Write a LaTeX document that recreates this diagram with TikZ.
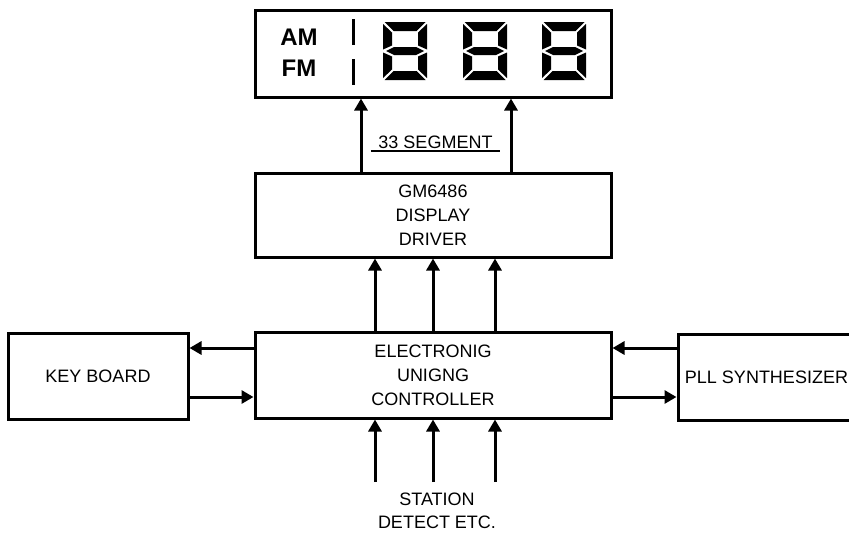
\documentclass[tikz,border=0pt]{standalone}
\usepackage{fontspec}
\setmainfont{Liberation Sans}
\usetikzlibrary{arrows.meta}

\tikzset{
  segdigit/.pic={
    \fill (1.5,0) -- (42.5,0) -- (33.5,9) -- (10.5,9) -- cycle;
    \fill (1.5,58) -- (42.5,58) -- (33.5,49) -- (10.5,49) -- cycle;
    \fill (3,29) -- (11,25) -- (33,25) -- (41,29) -- (33,33) -- (11,33) -- cycle;
    \fill (0,2) -- (9,10.5) -- (9,23.5) -- (0,27.5) -- cycle;
    \fill (0,30.5) -- (9,34.5) -- (9,47.5) -- (0,56) -- cycle;
    \fill (44,2) -- (35,10.5) -- (35,23.5) -- (44,27.5) -- cycle;
    \fill (44,30.5) -- (35,34.5) -- (35,47.5) -- (44,56) -- cycle;
  }
}

\begin{document}
\begin{tikzpicture}[x=1pt,y=-1pt,>={Triangle[length=12pt,width=13pt]},
  blk/.style={draw,line width=3pt,align=center,inner sep=0pt,font=\fontsize{18}{24}\selectfont},
  txt/.style={align=center,font=\fontsize{18}{23}\selectfont},
  wire/.style={->,line width=3pt}]
  \useasboundingbox (0,0) rectangle (849,533);
  \clip (0,0) rectangle (849,533);

  % display
  \node[blk,minimum width=356pt,minimum height=87pt] (disp) at (433,53.5) {};
  \node[font=\bfseries\fontsize{24}{24}\selectfont] (am) at (299,37) {AM};
  \node[font=\bfseries\fontsize{24}{24}\selectfont] (fm) at (299,68) {FM};
  \draw[line width=3pt] (353,19) -- (353,45) (353,59) -- (353,85);
  \foreach \dx in {383,463,542}
    \pic at (\dx,22) {segdigit};

  % blocks
  \node[blk,minimum width=356pt,minimum height=84pt] (drv) at (433,215) {GM6486\\DISPLAY\\DRIVER};
  \node[blk,minimum width=356pt,minimum height=86pt] (ctl) at (433,375) {ELECTRONIG\\UNIGNG\\CONTROLLER};
  \node[blk,minimum width=180pt,minimum height=86pt] (kbd) at (98,376) {KEY BOARD};
  \node[blk,minimum width=177pt,minimum height=86pt] (pll) at (766.5,377) {PLL SYNTHESIZER};

  % labels
  \node[txt,minimum width=129pt,inner ysep=2.5pt,text depth=0pt] (seg) at (435.5,142) {33 SEGMENT};
  \draw[line width=1.2pt] (seg.south west) -- (seg.south east);
  \node[txt] (stn) at (437,511) {STATION\\DETECT ETC.};

  % connections
  \draw[wire] ([xshift=-72pt]drv.north) -- ([xshift=-72pt]disp.south);
  \draw[wire] ([xshift=78pt]drv.north) -- ([xshift=78pt]disp.south);
  \foreach \s [count=\i] in {-58,0,62} {
    \draw[wire] ([xshift=\s pt]ctl.north) -- ([xshift=\s pt]drv.south);
    \coordinate (b\i) at (433+\s,482);
    \draw[wire] (b\i) -- (b\i |- ctl.south);
  }
  \draw[wire] ([yshift=27pt]ctl.west) -- ([yshift=27pt]ctl.west -| kbd.east);
  \draw[wire] ([yshift=-22pt]ctl.west -| kbd.east) -- ([yshift=-22pt]ctl.west);
  \draw[wire] ([yshift=27pt]ctl.east -| pll.west) -- ([yshift=27pt]ctl.east);
  \draw[wire] ([yshift=-22pt]ctl.east) -- ([yshift=-22pt]ctl.east -| pll.west);
\end{tikzpicture}
\end{document}
